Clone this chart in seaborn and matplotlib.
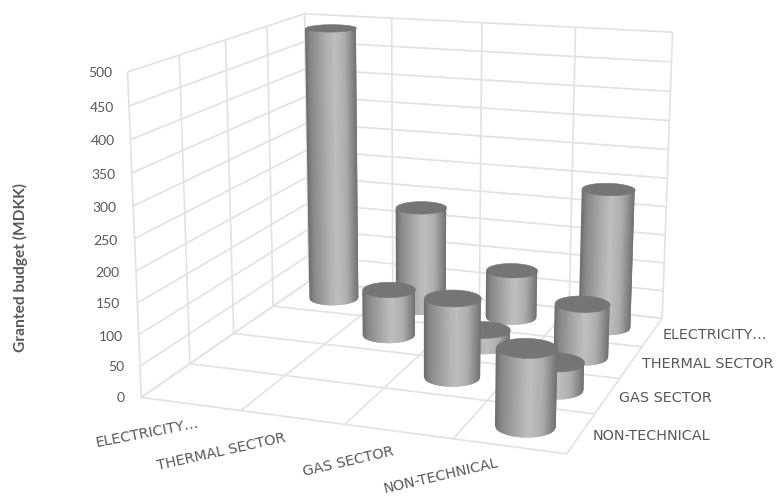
import numpy as np
import matplotlib
matplotlib.use("Agg")
import matplotlib.pyplot as plt
import seaborn as sns
from mpl_toolkits.mplot3d.art3d import Poly3DCollection

W, H = 776, 497
sns.set_theme(style="white", rc={"grid.color": "#e2e2e2", "grid.linewidth": 1.2})
plt.rcParams["font.family"] = ["Lato", "DejaVu Sans"]

# Granted budget (MDKK) per sector pair
categories = ["ELECTRICITY…", "THERMAL SECTOR", "GAS SECTOR", "NON-TECHNICAL"]
electricity = [490, 183, 85, 243]
thermal = [0, 80, 28, 90]
gas = [0, 0, 130, 45]
non_technical = [0, 0, 0, 120]
rows_front_to_back = [non_technical, gas, thermal, electricity]
z_ticks = list(range(0, 501, 50))

# Camera and box shape
ELEV, AZIM, FOCAL = 14.242, -70.49, 0.4953
BOX = np.array([1.3318, 1.2983, 1.0])
LEFT, BOTTOM, SIDE = 88.79, 536.78, 643.52

fig = plt.figure(figsize=(W / 100, H / 100), dpi=100)
ax = fig.add_subplot(projection="3d", computed_zorder=False)
ax.set_xlim(0, 4, view_margin=0)
ax.set_ylim(0, 4, view_margin=0)
ax.set_zlim(0, 500, view_margin=0)
ax.view_init(ELEV, AZIM)
ax.set_proj_type("persp", focal_length=FOCAL)
ax.set_box_aspect(BOX)
ax.set_position([LEFT / W, 1 - BOTTOM / H, SIDE / W, SIDE / H])

ax.set_xticks(range(5))
ax.set_yticks(range(5))
ax.set_zticks(z_ticks)
ax.set_xticklabels([])
ax.set_yticklabels([])
ax.set_zticklabels([])
ax.grid(True)
for axis in (ax.xaxis, ax.yaxis, ax.zaxis):
    axis.set_pane_color((1, 1, 1, 0))
    axis.pane.set_edgecolor((1, 1, 1, 0))
    axis.line.set_color((1, 1, 1, 0))
    axis._axinfo["tick"]["inward_factor"] = 0
    axis._axinfo["tick"]["outward_factor"] = 0

# Eye position in box units, used to find each cylinder's silhouette
box_size = BOX * 1.8294640721620434 * 25 / 24 / np.linalg.norm(BOX)
el, az = np.radians(ELEV), np.radians(AZIM)
eye = box_size[:2] / 2 + 10 * FOCAL * np.cos(el) * np.array([np.cos(az), np.sin(az)])

# Wall strips are evenly wide on screen; shading is darkest at the silhouettes
N = 48
across = np.linspace(-1, 1, N + 1)
across_mid = (across[:-1] + across[1:]) / 2
tone = np.interp(across_mid, [-1, -.8, -.4, .1, .5, .85, 1],
                 [.42, .53, .63, .75, .68, .5, .42])
wall_colors = np.column_stack([tone, tone, tone, np.ones(N)])

RX = 0.265
RY = RX * BOX[0] / BOX[1]
unit = box_size[0] / 4
circle = np.linspace(0, 2 * np.pi, 121)
order = 0
for row, values in reversed(list(enumerate(rows_front_to_back))):
    for col, value in enumerate(values):
        if value <= 0:
            continue
        order += 1
        cx, cy = col + .5, row + .5
        to_eye = eye - np.array([cx * box_size[0] / 4, cy * box_size[1] / 4])
        facing = np.arctan2(to_eye[1], to_eye[0])
        half_span = np.arccos(RX * unit / np.linalg.norm(to_eye))
        angle = facing + half_span * np.arcsin(across) / (np.pi / 2)
        xs = cx + RX * np.cos(angle)
        ys = cy + RY * np.sin(angle)
        # Each strip reaches over its neighbour so no seams show between them
        quads = []
        for i in range(N):
            j = min(i + 2, N)
            arc = list(range(i, j + 1))
            quads.append([(xs[k], ys[k], 0) for k in arc]
                         + [(xs[k], ys[k], value) for k in reversed(arc)])
        wall = Poly3DCollection(quads, facecolors=wall_colors, edgecolors="none",
                                linewidths=0, zorder=order)
        ax.add_collection3d(wall)
        top = Poly3DCollection([list(zip(cx + RX * np.cos(circle), cy + RY * np.sin(circle),
                                         np.full(circle.size, value)))],
                               facecolors="#757575", edgecolors="#757575",
                               linewidths=0.4, joinstyle="round", zorder=order + .5)
        ax.add_collection3d(top)


def put(px, py, text, **kwargs):
    fig.text(px / W, 1 - py / H, text, color="#595959", **kwargs)


z_label_x = [125, 124, 123, 120, 119, 118, 116, 116, 115, 114, 112]
z_label_y = [398, 367, 337, 304, 273, 241, 208, 175, 141, 108, 73]
for val, px, py in zip(z_ticks, z_label_x, z_label_y):
    put(px, py, str(val), ha="right", va="center", fontsize=10)
put(20, 268, "Granted budget (MDKK)", rotation=90, ha="center", va="center",
    fontsize=11.2, fontweight="bold")
for text, px, py, rot in zip(categories, [147, 221, 348, 441], [433, 452, 462, 476],
                             [11, 12.5, 13, 13]):
    put(px, py, text, ha="center", va="center", rotation=rot, rotation_mode="anchor",
        fontsize=10.4, fontfamily="DejaVu Sans")
for text, px, py in zip(categories, [663, 642, 619, 593], [335, 364, 398, 436]):
    put(px, py, text, ha="left", va="center", fontsize=10.4, fontfamily="DejaVu Sans")
fig.savefig("out.png", dpi=100)
